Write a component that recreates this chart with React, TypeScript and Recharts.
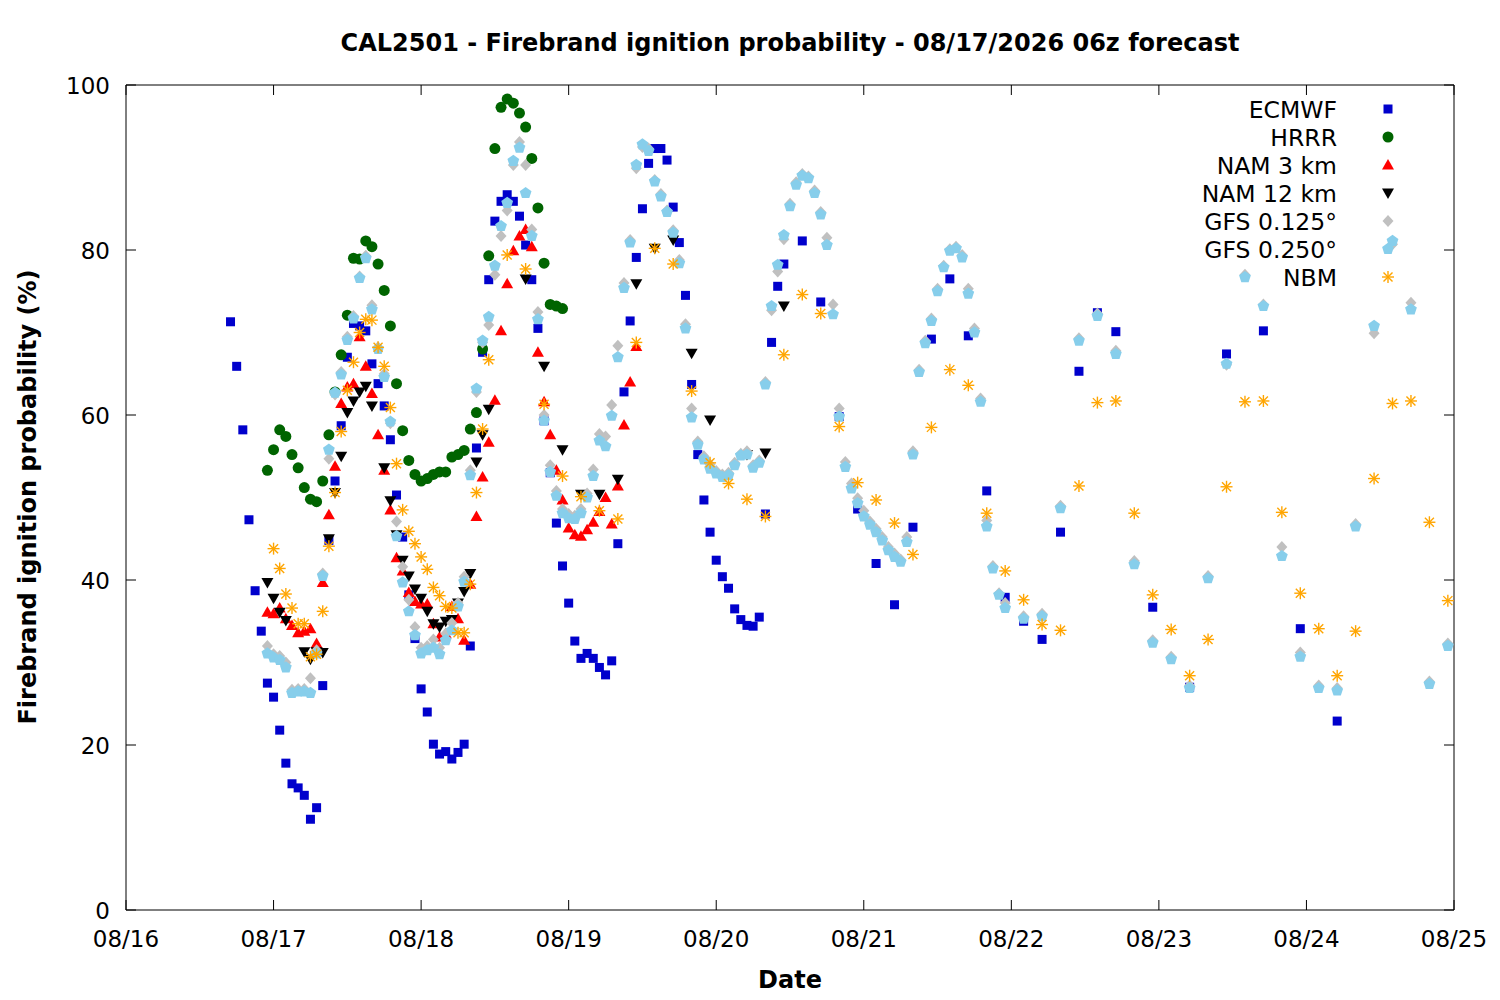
import React from 'react';
import { ScatterChart, Scatter, XAxis, YAxis, ReferenceArea } from 'recharts';

// time grid: hours since 08/16 00z
const span = (a: number, b: number, step: number) => {
  const out: number[] = [];
  for (let h = a; h <= b; h += step) out.push(h);
  return out;
};

const X_TICKS = [0, 24, 48, 72, 96, 120, 144, 168, 192, 216];
const X_LABELS = ['08/16', '08/17', '08/18', '08/19', '08/20', '08/21', '08/22', '08/23', '08/24', '08/25'];
const Y_TICKS = [0, 20, 40, 60, 80, 100];

const ECMWF_HOURS = [...span(17, 107, 1), ...span(110, 161, 3), ...span(167, 197, 6)];
const ECMWF = [
  71.3, 65.9, 58.2, 47.3, 38.7, 33.8, 27.5, 25.8, 21.8, 17.8,
  15.3, 14.8, 13.9, 11.0, 12.4, 27.2, 44.8, 52.0, 58.7, 67.0,
  71.1, 70.8, 70.2, 66.2, 63.8, 61.1, 57.0, 50.3, 45.2, 38.2,
  32.9, 26.8, 24.0, 20.1, 18.9, 19.2, 18.3, 19.1, 20.1, 32.0,
  56.0, 67.6, 76.4, 83.5, 85.9, 86.7, 85.9, 84.1, 80.6, 76.4,
  70.5, 59.3, 53.0, 46.9, 41.7, 37.2, 32.6, 30.5, 31.1, 30.5,
  29.4, 28.5, 30.2, 44.4, 62.8, 71.4, 79.1, 85.0, 90.5, 92.3,
  92.3, 90.9, 85.2, 80.9, 74.5, 63.7, 55.2, 49.7, 45.8, 42.4,
  40.4, 39.0, 36.5, 35.2, 34.5, 34.4, 35.5, 48.0, 68.8, 75.6,
  78.3,
  81.1, 73.7, 59.8, 48.6, 42.0, 37.0, 46.4, 69.2, 76.5, 69.6,
  50.8, 37.9, 35.0, 32.8, 45.8, 65.3, 72.4, 70.1,
  36.7, 27.0, 67.4, 70.2, 34.1, 22.9,
];

const HRRR_HOURS = span(23, 71, 1);
const HRRR = [
  53.3, 55.8, 58.2, 57.4, 55.2, 53.6, 51.2, 49.8, 49.5, 52.0,
  57.6, 62.8, 67.3, 72.1, 79.0, 78.9, 81.1, 80.4, 78.3, 75.1,
  70.8, 63.8, 58.1, 54.5, 52.8, 52.0, 52.3, 52.8, 53.1, 53.1,
  54.9, 55.2, 55.7, 58.3, 60.3, 68.0, 79.3, 92.3, 97.3, 98.3,
  97.8, 96.6, 94.9, 91.1, 85.1, 78.4, 73.4, 73.2, 72.9,
];

const NAM3_HOURS = span(23, 83, 1);
const NAM3 = [
  36.1, 35.9, 36.6, 35.3, 34.5, 33.6, 33.8, 34.1, 32.3, 39.7,
  47.9, 53.8, 61.4, 63.4, 63.8, 69.5, 65.9, 62.6, 57.6, 53.3,
  48.5, 42.7, 41.1, 38.5, 37.4, 37.1, 37.1, 34.7, 33.1, 33.5,
  36.8, 35.3, 32.7, 39.5, 47.7, 52.5, 56.7, 61.8, 70.2, 75.9,
  79.9, 81.7, 82.5, 80.4, 67.6, 61.6, 57.6, 53.3, 49.7, 46.3,
  45.5, 45.3, 46.1, 47.0, 48.3, 50.0, 46.8, 51.4, 58.8, 64.0,
  68.3,
];

const NAM12_HOURS = [...span(23, 59, 1), ...span(62, 107, 3)];
const NAM12 = [
  39.7, 37.8, 36.1, 35.1, null, null, 31.3, 30.4, 31.3, 31.2,
  45.0, 50.6, 55.0, 60.3, 61.7, 62.8, 63.5, 61.1, null, 53.6,
  49.6, 45.5, 42.4, 40.5, 38.9, 37.8, 36.2, 34.7, 34.3, 35.0,
  35.2, 37.2, 38.6, 40.8, 54.3, 57.6, 60.7,
  null, 76.5, 65.9, 55.8, 50.4, 50.4, 52.2, 75.9, 80.2, 81.2,
  67.5, 59.4, null, 55.2, 55.4, 73.2,
];

const GFS_HOURS = [...span(23, 143, 1), ...span(146, 215, 3)];
const GFS125 = [
  32.0, 31.0, 30.8, 30.0, 26.7, 26.8, 26.8, 28.1, 31.5, 40.8,
  54.7, 62.5, 65.2, 69.5, 72.0, 76.8, 79.3, 73.3, 68.2, 65.0,
  59.0, 47.1, 41.6, 37.6, 34.3, 31.8, 32.0, 32.8, 31.8, 33.5,
  34.8, 37.2, 40.4, 53.3, 62.8, 68.8, 70.9, 77.0, 81.7, 84.8,
  90.3, 93.1, 90.3, 82.5, 72.5, 60.0, 53.9, 50.8, 48.6, 48.0,
  47.8, 48.6, 50.5, 53.4, 57.7, 57.4, 61.2, 68.4, 76.0, 81.2,
  89.9, 92.5, 92.3, 88.5, 86.8, 84.8, 82.4, 78.8, 71.0, 60.8,
  56.8, 55.0, 54.0, 53.2, 52.8, 53.0, 54.2, 55.3, 55.6, 53.9,
  54.5, 64.0, 72.7, 77.4, 81.3, 85.6, 88.2, 89.2, 88.9, 87.2,
  84.6, 81.5, 73.4, 60.8, 54.3, 51.7, 49.9, 48.4, 47.1, 46.2,
  45.2, 44.0, 43.2, 42.5, 45.2, 55.6, 65.5, 69.0, 71.7, 75.3,
  78.1, 80.1, 80.4, 79.4, 75.3, 70.5, 62.0, 47.2, 41.7, 38.4,
  37.2,
  35.6, 35.9, 49.0, 69.3, 72.3, 67.8, 42.3, 32.7, 30.7, 27.2,
  40.5, 66.1, 77.0, 73.4, 44.0, 31.2, 27.2, 26.9, 46.8, 69.9,
  80.7, 73.6, 27.7, 32.3,
];
const GFS250 = [
  31.1, 30.6, 30.3, 29.4, 26.3, 26.5, 26.5, 26.3, 31.1, 40.5,
  55.8, 62.7, 64.9, 69.1, 71.7, 76.6, 79.0, 72.8, 68.0, 64.6,
  59.2, 45.3, 39.7, 36.2, 33.3, 31.1, 31.5, 31.8, 31.0, 32.7,
  33.9, 36.8, 39.8, 52.7, 63.2, 69.0, 71.9, 78.1, 82.9, 85.7,
  90.8, 92.4, 86.9, 81.7, 71.6, 59.3, 53.1, 50.2, 48.1, 47.5,
  47.4, 48.1, 50.0, 52.6, 56.9, 56.2, 59.9, 67.0, 75.4, 80.9,
  90.3, 92.8, 92.0, 88.3, 86.5, 84.6, 82.1, 78.4, 70.5, 59.7,
  56.4, 54.6, 53.5, 52.9, 52.5, 52.7, 53.9, 55.1, 55.2, 53.6,
  54.2, 63.7, 73.2, 78.2, 81.8, 85.3, 87.9, 89.0, 88.7, 86.9,
  84.3, 80.6, 72.2, 59.8, 53.7, 51.1, 49.3, 47.7, 46.7, 45.8,
  44.8, 43.6, 42.8, 42.2, 44.6, 55.2, 65.2, 68.7, 71.4, 75.0,
  77.9, 79.9, 80.2, 79.1, 74.7, 70.0, 61.6, 46.5, 41.4, 38.2,
  36.6,
  35.3, 35.6, 48.7, 69.0, 72.0, 67.4, 41.9, 32.4, 30.4, 26.9,
  40.2, 66.2, 76.7, 73.2, 42.9, 30.7, 26.9, 26.6, 46.5, 70.8,
  81.1, 72.8, 27.4, 32.0,
];

const NBM_HOURS = [...span(24, 59, 1), ...span(62, 215, 3)];
const NBM = [
  43.8, 41.4, 38.3, 36.6, 34.7, 34.7, 30.7, 31.0, 36.2, 44.1,
  50.6, 58.0, 63.0, 66.4, 70.0, 71.6, 71.5, 68.2, 65.9, 60.9,
  54.1, 48.5, 45.9, 44.4, 42.8, 41.3, 39.1, 38.1, 36.8, 36.6,
  33.6, 33.6, 39.5, 50.6, 58.3, 66.7,
  79.4, 77.7, 61.3, 52.6, 50.1, 48.4, 47.4, 68.8, 80.2, 78.3,
  62.9, 54.2, 51.7, 49.8, 47.7, 67.3, 74.6, 72.3, 58.6, 51.8,
  49.7, 46.9, 43.1, 58.5, 65.5, 63.6, 48.1, 41.1, 37.6, 34.6,
  33.9, 51.4, 61.5, 61.7, 48.1, 38.2, 34.0, 28.4, 32.8, 51.3,
  61.6, 61.7, 48.2, 38.4, 34.1, 28.4, 33.8, 52.3, 61.4, 61.7,
  47.0, 37.5,
];

const toPoints = (hours: number[], vals: (number | null)[]) =>
  hours.map((h, i) => ({ h, v: vals[i] })).filter((p) => p.v != null);

// layout (px)
const W = 1500;
const H = 1000;
const PLOT_LEFT = 126;
const PLOT_RIGHT = 1454;
const PLOT_TOP = 85;
const PLOT_BOTTOM = 910;
const TICK = 10;
const FONT = 'DejaVu Sans, Verdana, sans-serif';

type P = { cx?: number; cy?: number };

const Square = ({ cx = 0, cy = 0 }: P) => (
  <rect x={cx - 4.5} y={cy - 4.5} width={9} height={9} fill="#0000cc" />
);
const Circle = ({ cx = 0, cy = 0 }: P) => <circle cx={cx} cy={cy} r={5.5} fill="#006400" />;
const TriUp = ({ cx = 0, cy = 0 }: P) => (
  <polygon points={`${cx},${cy - 6} ${cx - 6},${cy + 4.5} ${cx + 6},${cy + 4.5}`} fill="#ff0000" />
);
const TriDown = ({ cx = 0, cy = 0 }: P) => (
  <polygon points={`${cx},${cy + 6} ${cx - 6},${cy - 4.5} ${cx + 6},${cy - 4.5}`} fill="#000000" />
);
const Diamond = ({ cx = 0, cy = 0 }: P) => (
  <polygon points={`${cx},${cy - 6} ${cx + 5.5},${cy} ${cx},${cy + 6} ${cx - 5.5},${cy}`} fill="#c0c0c0" />
);
const Pentagon = ({ cx = 0, cy = 0 }: P) => {
  const pts = [0, 1, 2, 3, 4]
    .map((k) => {
      const a = ((-90 + k * 72) * Math.PI) / 180;
      return `${cx + 6.2 * Math.cos(a)},${cy + 6.2 * Math.sin(a)}`;
    })
    .join(' ');
  return <polygon points={pts} fill="#87ceeb" />;
};
const Asterisk = ({ cx = 0, cy = 0 }: P) => (
  <g stroke="#ffa500" strokeWidth={1.4}>
    <line x1={cx - 6} y1={cy} x2={cx + 6} y2={cy} />
    <line x1={cx} y1={cy - 6} x2={cx} y2={cy + 6} />
    <line x1={cx - 4.5} y1={cy - 4.5} x2={cx + 4.5} y2={cy + 4.5} />
    <line x1={cx - 4.5} y1={cy + 4.5} x2={cx + 4.5} y2={cy - 4.5} />
  </g>
);

const SERIES = [
  { name: 'ECMWF', hours: ECMWF_HOURS, vals: ECMWF, Shape: Square },
  { name: 'HRRR', hours: HRRR_HOURS, vals: HRRR, Shape: Circle },
  { name: 'NAM 3 km', hours: NAM3_HOURS, vals: NAM3, Shape: TriUp },
  { name: 'NAM 12 km', hours: NAM12_HOURS, vals: NAM12, Shape: TriDown },
  { name: 'GFS 0.125°', hours: GFS_HOURS, vals: GFS125, Shape: Diamond },
  { name: 'GFS 0.250°', hours: GFS_HOURS, vals: GFS250, Shape: Pentagon },
  { name: 'NBM', hours: NBM_HOURS, vals: NBM, Shape: Asterisk },
];

function XTick(props: any) {
  const { x, payload } = props;
  const label = X_LABELS[X_TICKS.indexOf(payload.value)];
  return (
    <g>
      <line x1={x} x2={x} y1={PLOT_BOTTOM} y2={PLOT_BOTTOM - TICK} stroke="#000" />
      <line x1={x} x2={x} y1={PLOT_TOP} y2={PLOT_TOP + TICK} stroke="#000" />
      <text x={x} y={PLOT_BOTTOM + 37} textAnchor="middle" fontSize={23} fontFamily={FONT} fill="#000">
        {label}
      </text>
    </g>
  );
}

function YTick(props: any) {
  const { y, payload } = props;
  return (
    <g>
      <line x1={PLOT_LEFT} x2={PLOT_LEFT + TICK} y1={y} y2={y} stroke="#000" />
      <line x1={PLOT_RIGHT} x2={PLOT_RIGHT - TICK} y1={y} y2={y} stroke="#000" />
      <text x={PLOT_LEFT - 16} y={y + 8.5} textAnchor="end" fontSize={23} fontFamily={FONT} fill="#000">
        {payload.value}
      </text>
    </g>
  );
}

export default function App() {
  return (
    <div style={{ position: 'absolute', left: 0, top: 0, width: W, height: H, background: '#fff' }}>
      <ScatterChart width={W} height={H} margin={{ top: PLOT_TOP, right: W - PLOT_RIGHT, bottom: 0, left: 0 }}>
        <XAxis
          type="number"
          dataKey="h"
          domain={[0, 216]}
          ticks={X_TICKS}
          interval={0}
          height={H - PLOT_BOTTOM}
          axisLine={false}
          tickLine={false}
          tick={(p: any) => <XTick {...p} />}
          allowDataOverflow
        />
        <YAxis
          type="number"
          dataKey="v"
          domain={[0, 100]}
          ticks={Y_TICKS}
          interval={0}
          width={PLOT_LEFT}
          axisLine={false}
          tickLine={false}
          tick={(p: any) => <YTick {...p} />}
          allowDataOverflow
        />
        <ReferenceArea x1={0} x2={216} y1={0} y2={100} fill="none" fillOpacity={0} stroke="#000" strokeWidth={1} />
        {SERIES.map((s) => (
          <Scatter
            key={s.name}
            name={s.name}
            data={toPoints(s.hours, s.vals)}
            shape={(p: any) => <s.Shape cx={p.cx} cy={p.cy} />}
            isAnimationActive={false}
          />
        ))}
      </ScatterChart>
      <svg
        width={W}
        height={H}
        style={{ position: 'absolute', left: 0, top: 0, pointerEvents: 'none' }}
        fontFamily={FONT}
      >
        <text x={790} y={51} textAnchor="middle" fontSize={24} fontWeight="bold">
          CAL2501 - Firebrand ignition probability - 08/17/2026 06z forecast
        </text>
        <text x={790} y={988} textAnchor="middle" fontSize={24} fontWeight="bold">
          Date
        </text>
        <text
          x={36}
          y={497}
          textAnchor="middle"
          fontSize={24}
          fontWeight="bold"
          transform="rotate(-90 36 497)"
        >
          Firebrand ignition probability (%)
        </text>
        {SERIES.map((s, i) => (
          <g key={s.name}>
            <text x={1337} y={109 + i * 28 + 9} textAnchor="end" fontSize={23.5}>
              {s.name}
            </text>
            <s.Shape cx={1388} cy={109 + i * 28} />
          </g>
        ))}
      </svg>
    </div>
  );
}
